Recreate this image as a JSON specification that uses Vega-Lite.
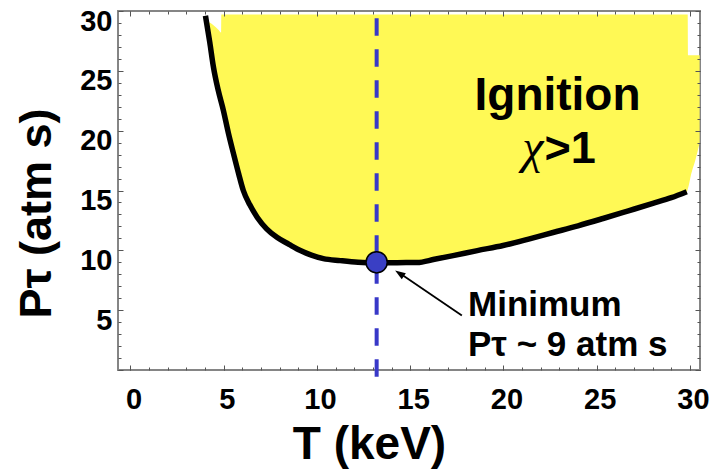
{
  "$schema": "https://vega.github.io/schema/vega-lite/v6.json",
  "width": 582,
  "height": 359,
  "autosize": {"type": "none"},
  "padding": {"left": 118, "top": 11, "right": 11, "bottom": 99},
  "background": "white",
  "config": {
    "view": {"stroke": "#858585", "strokeWidth": 2},
    "font": "Liberation Sans",
    "axis": {"grid": false}
  },
  "datasets": {
    "region": [
      {"T": 4.1, "lo": 28.8, "hi": 29.1},
      {"T": 4.29, "lo": 26.9, "hi": 29.0},
      {"T": 4.45, "lo": 25.3, "hi": 28.8},
      {"T": 4.7, "lo": 23.4, "hi": 28.45},
      {"T": 4.86, "lo": 22.4, "hi": 28.2},
      {"T": 4.87, "lo": 22.35, "hi": 29.7},
      {"T": 5.25, "lo": 19.8, "hi": 29.7},
      {"T": 5.52, "lo": 18.1, "hi": 29.7},
      {"T": 5.8, "lo": 16.4, "hi": 29.7},
      {"T": 6.05, "lo": 15.0, "hi": 29.7},
      {"T": 6.4, "lo": 13.8, "hi": 29.7},
      {"T": 6.8, "lo": 12.75, "hi": 29.7},
      {"T": 7.3, "lo": 11.8, "hi": 29.7},
      {"T": 7.87, "lo": 11.07, "hi": 29.7},
      {"T": 8.5, "lo": 10.5, "hi": 29.7},
      {"T": 9.11, "lo": 9.98, "hi": 29.7},
      {"T": 9.7, "lo": 9.6, "hi": 29.7},
      {"T": 10.34, "lo": 9.31, "hi": 29.7},
      {"T": 11.25, "lo": 9.14, "hi": 29.7},
      {"T": 12.2, "lo": 9.0, "hi": 29.7},
      {"T": 13.23, "lo": 8.95, "hi": 29.7},
      {"T": 14.3, "lo": 8.97, "hi": 29.7},
      {"T": 15.37, "lo": 8.98, "hi": 29.7},
      {"T": 16.3, "lo": 9.25, "hi": 29.7},
      {"T": 17.3, "lo": 9.56, "hi": 29.7},
      {"T": 18.6, "lo": 9.98, "hi": 29.7},
      {"T": 19.98, "lo": 10.4, "hi": 29.7},
      {"T": 21.3, "lo": 10.92, "hi": 29.7},
      {"T": 22.66, "lo": 11.49, "hi": 29.7},
      {"T": 24.0, "lo": 12.05, "hi": 29.7},
      {"T": 25.34, "lo": 12.66, "hi": 29.7},
      {"T": 26.7, "lo": 13.3, "hi": 29.7},
      {"T": 28.01, "lo": 13.92, "hi": 29.7},
      {"T": 29.0, "lo": 14.4, "hi": 29.7},
      {"T": 29.83, "lo": 14.9, "hi": 29.7},
      {"T": 29.88, "lo": 15.1, "hi": 29.7},
      {"T": 29.9, "lo": 15.2, "hi": 26.3},
      {"T": 30.07, "lo": 16.4, "hi": 26.3},
      {"T": 30.3, "lo": 17.6, "hi": 26.3},
      {"T": 30.52, "lo": 19.0, "hi": 26.3}
    ],
    "curve": [
      {"T": 4.02, "P": 29.6},
      {"T": 4.25, "P": 27.4},
      {"T": 4.45, "P": 25.3},
      {"T": 4.7, "P": 23.4},
      {"T": 4.98, "P": 21.7},
      {"T": 5.25, "P": 19.8},
      {"T": 5.52, "P": 18.1},
      {"T": 5.8, "P": 16.4},
      {"T": 6.05, "P": 15.0},
      {"T": 6.4, "P": 13.8},
      {"T": 6.8, "P": 12.75},
      {"T": 7.3, "P": 11.8},
      {"T": 7.87, "P": 11.07},
      {"T": 8.5, "P": 10.5},
      {"T": 9.11, "P": 9.98},
      {"T": 9.7, "P": 9.6},
      {"T": 10.34, "P": 9.31},
      {"T": 11.25, "P": 9.14},
      {"T": 12.2, "P": 9.0},
      {"T": 13.23, "P": 8.95},
      {"T": 14.3, "P": 8.97},
      {"T": 15.37, "P": 8.98},
      {"T": 16.3, "P": 9.25},
      {"T": 17.3, "P": 9.56},
      {"T": 18.6, "P": 9.98},
      {"T": 19.98, "P": 10.4},
      {"T": 21.3, "P": 10.92},
      {"T": 22.66, "P": 11.49},
      {"T": 24.0, "P": 12.05},
      {"T": 25.34, "P": 12.66},
      {"T": 26.7, "P": 13.3},
      {"T": 28.01, "P": 13.92},
      {"T": 29.0, "P": 14.4},
      {"T": 29.83, "P": 14.9}
    ]
  },
  "layer": [
    {
      "data": {"name": "region"},
      "mark": {"type": "area", "color": "#fff955", "opacity": 1, "interpolate": "monotone"},
      "encoding": {
        "x": {
          "field": "T", "type": "quantitative",
          "scale": {"domain": [-0.67, 30.54], "nice": false, "zero": false},
          "axis": {
            "orient": "bottom", "values": [0, 5, 10, 15, 20, 25, 30],
            "ticks": false, "domain": false,
            "labelFont": "Liberation Sans", "labelFontWeight": "bold", "labelFontSize": 29,
            "labelColor": "black", "labelPadding": 15, "labelOffset": 3,
            "labelFlush": false, "labelOverlap": false,
            "title": "T (keV)", "titleFont": "Liberation Sans", "titleFontSize": 46,
            "titleFontWeight": "bold", "titleColor": "black",
            "titleX": 251, "titleY": 88, "titleAlign": "center", "titleBaseline": "alphabetic"
          }
        },
        "y": {
          "field": "lo", "type": "quantitative",
          "scale": {"domain": [0, 30], "nice": false, "zero": false},
          "axis": {
            "orient": "left", "values": [5, 10, 15, 20, 25, 30],
            "ticks": false, "domain": false,
            "labelFont": "Liberation Sans", "labelFontWeight": "bold", "labelFontSize": 29,
            "labelColor": "black", "labelPadding": 6, "labelOffset": 10,
            "labelFlush": false, "labelOverlap": false,
            "title": "Pτ (atm s)", "titleFont": "Liberation Sans", "titleFontSize": 45,
            "titleFontWeight": "bold", "titleColor": "black", "titleAngle": 270,
            "titleX": -68, "titleY": 202, "titleAlign": "center", "titleBaseline": "alphabetic"
          }
        },
        "y2": {"field": "hi"}
      }
    },
    {
      "data": {"values": [{"T": 13.2, "top": 29.4, "bottom": -0.6}]},
      "mark": {"type": "rule", "color": "#3838c8", "strokeWidth": 4, "strokeDash": [17.5, 13.5]},
      "encoding": {
        "x": {
          "field": "T", "type": "quantitative",
          "scale": {"domain": [-0.67, 30.54], "nice": false, "zero": false},
          "axis": {"orient": "bottom", "values": [0, 5, 10, 15, 20, 25, 30], "labels": false, "domain": false,
                   "title": null, "tickSize": -5, "tickColor": "#555", "tickWidth": 1, "zindex": 1}
        },
        "y": {
          "field": "top", "type": "quantitative",
          "scale": {"domain": [0, 30], "nice": false, "zero": false},
          "axis": {"orient": "left", "values": [0, 5, 10, 15, 20, 25, 30], "labels": false, "domain": false,
                   "title": null, "tickSize": -5, "tickColor": "#555", "tickWidth": 1, "zindex": 1}
        },
        "y2": {"field": "bottom"}
      }
    },
    {
      "data": {"name": "curve"},
      "mark": {"type": "line", "color": "black", "strokeWidth": 5.5, "strokeCap": "butt", "strokeJoin": "round", "interpolate": "monotone"},
      "encoding": {
        "x": {
          "field": "T", "type": "quantitative",
          "scale": {"domain": [-0.67, 30.54], "nice": false, "zero": false},
          "axis": {"orient": "bottom",
                   "values": [0,1,2,3,4,5,6,7,8,9,10,11,12,13,14,15,16,17,18,19,20,21,22,23,24,25,26,27,28,29,30],
                   "labels": false, "domain": false, "title": null,
                   "tickSize": -3, "tickColor": "#555", "tickWidth": 1, "zindex": 1}
        },
        "y": {
          "field": "P", "type": "quantitative",
          "scale": {"domain": [0, 30], "nice": false, "zero": false},
          "axis": {"orient": "left",
                   "values": [0,1,2,3,4,5,6,7,8,9,10,11,12,13,14,15,16,17,18,19,20,21,22,23,24,25,26,27,28,29,30],
                   "labels": false, "domain": false, "title": null,
                   "tickSize": -3, "tickColor": "#555", "tickWidth": 1, "zindex": 1}
        }
      }
    },
    {
      "data": {"values": [{"T": 13.2, "P": 9}]},
      "mark": {"type": "point", "filled": true, "fill": "#3a3fc4", "stroke": "black", "strokeWidth": 1.5, "size": 450, "opacity": 1},
      "encoding": {
        "x": {
          "field": "T", "type": "quantitative",
          "scale": {"domain": [-0.67, 30.54], "nice": false, "zero": false},
          "axis": {"orient": "top", "values": [0, 5, 10, 15, 20, 25, 30], "labels": false, "domain": false,
                   "title": null, "tickSize": -5, "tickColor": "#555", "tickWidth": 1, "zindex": 1}
        },
        "y": {
          "field": "P", "type": "quantitative",
          "scale": {"domain": [0, 30], "nice": false, "zero": false},
          "axis": {"orient": "right", "values": [0, 5, 10, 15, 20, 25, 30], "labels": false, "domain": false,
                   "title": null, "tickSize": -5, "tickColor": "#555", "tickWidth": 1, "zindex": 1}
        }
      }
    },
    {
      "data": {"values": [{"T": 17.77, "P": 4.55, "T2": 14.4, "P2": 8.12}]},
      "mark": {"type": "rule", "color": "black", "strokeWidth": 1.8},
      "encoding": {
        "x": {
          "field": "T", "type": "quantitative",
          "scale": {"domain": [-0.67, 30.54], "nice": false, "zero": false},
          "axis": {"orient": "top",
                   "values": [0,1,2,3,4,5,6,7,8,9,10,11,12,13,14,15,16,17,18,19,20,21,22,23,24,25,26,27,28,29,30],
                   "labels": false, "domain": false, "title": null,
                   "tickSize": -3, "tickColor": "#555", "tickWidth": 1, "zindex": 1}
        },
        "y": {
          "field": "P", "type": "quantitative",
          "scale": {"domain": [0, 30], "nice": false, "zero": false},
          "axis": {"orient": "right",
                   "values": [0,1,2,3,4,5,6,7,8,9,10,11,12,13,14,15,16,17,18,19,20,21,22,23,24,25,26,27,28,29,30],
                   "labels": false, "domain": false, "title": null,
                   "tickSize": -3, "tickColor": "#555", "tickWidth": 1, "zindex": 1}
        },
        "x2": {"field": "T2"},
        "y2": {"field": "P2"}
      }
    },
    {
      "data": {"values": [{"T": 14.19, "P": 8.32}]},
      "mark": {"type": "point", "filled": true, "color": "black", "opacity": 1, "size": 110,
               "shape": "M0,0L0.7,2L-0.7,2Z", "angle": 304},
      "encoding": {
        "x": {"field": "T", "type": "quantitative", "axis": null},
        "y": {"field": "P", "type": "quantitative", "axis": null}
      }
    },
    {
      "data": {"values": [{"T": 22.9, "P": 21.73, "label": "Ignition"}]},
      "mark": {"type": "text", "font": "Liberation Sans", "fontWeight": "bold", "fontSize": 46,
               "align": "center", "baseline": "alphabetic", "color": "black"},
      "encoding": {
        "x": {"field": "T", "type": "quantitative", "axis": null},
        "y": {"field": "P", "type": "quantitative", "axis": null},
        "text": {"field": "label"}
      }
    },
    {
      "data": {"values": [{"T": 22.2, "P": 17.27, "label": "χ"}]},
      "mark": {"type": "text", "font": "Liberation Serif", "fontStyle": "italic", "fontSize": 48,
               "align": "right", "baseline": "alphabetic", "color": "black", "dx": -1},
      "encoding": {
        "x": {"field": "T", "type": "quantitative", "axis": null},
        "y": {"field": "P", "type": "quantitative", "axis": null},
        "text": {"field": "label"}
      }
    },
    {
      "data": {"values": [{"T": 22.2, "P": 17.27, "label": ">1"}]},
      "mark": {"type": "text", "font": "Liberation Sans", "fontWeight": "bold", "fontSize": 45,
               "align": "left", "baseline": "alphabetic", "color": "black"},
      "encoding": {
        "x": {"field": "T", "type": "quantitative", "axis": null},
        "y": {"field": "P", "type": "quantitative", "axis": null},
        "text": {"field": "label"}
      }
    },
    {
      "data": {"values": [{"T": 18.1, "P": 4.55, "label": "Minimum"}, {"T": 18.1, "P": 1.2, "label": "Pτ ~ 9 atm s"}]},
      "mark": {"type": "text", "font": "Liberation Sans", "fontWeight": "bold", "fontSize": 35,
               "align": "left", "baseline": "alphabetic", "color": "black"},
      "encoding": {
        "x": {"field": "T", "type": "quantitative", "axis": null},
        "y": {"field": "P", "type": "quantitative", "axis": null},
        "text": {"field": "label"}
      }
    }
  ],
  "resolve": {"axis": {"x": "independent", "y": "independent"}}
}
